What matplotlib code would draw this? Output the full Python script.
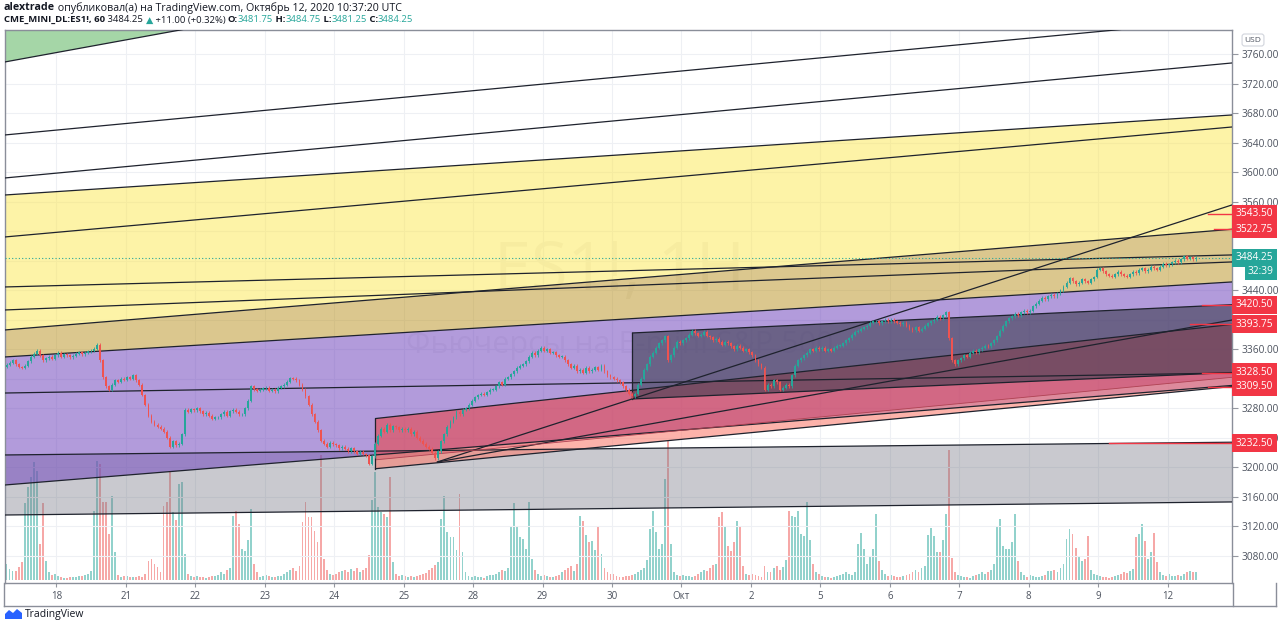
import matplotlib
matplotlib.use("Agg")
import matplotlib.pyplot as plt
from matplotlib.patches import Polygon
from matplotlib.lines import Line2D
from matplotlib.transforms import IdentityTransform
import numpy as np

plt.rcParams['font.family'] = ['Open Sans', 'DejaVu Sans']

# ---- ES1! hourly closes, one list per session ----
close_sep17 = [3339, 3342, 3345, 3340, 3336, 3335, 3338, 3344, 3350, 3354, 3358, 3352, 3345, 3348, 3350, 3347, 3352]
close_sep18 = [3355, 3350, 3353, 3352, 3349, 3351, 3354, 3356, 3353, 3355, 3357, 3358, 3361, 3366, 3345, 3322, 3310, 3305, 3312, 3318, 3316, 3320, 3319]
close_sep21 = [3322, 3320, 3325, 3318, 3312, 3298, 3285, 3270, 3262, 3258, 3255, 3252, 3248, 3240, 3228, 3235, 3230, 3232, 3245, 3278, 3275, 3279, 3277]
close_sep22 = [3280, 3276, 3272, 3274, 3270, 3266, 3268, 3268, 3272, 3275, 3270, 3276, 3278, 3275, 3272, 3272, 3280, 3290, 3310, 3306, 3304, 3305, 3307]
close_sep23 = [3308, 3304, 3305, 3303, 3308, 3310, 3312, 3316, 3321, 3320, 3318, 3312, 3305, 3296, 3285, 3272, 3262, 3250, 3236, 3232, 3228, 3233, 3231]
close_sep24 = [3230, 3226, 3228, 3225, 3222, 3226, 3222, 3218, 3221, 3218, 3216, 3205, 3215, 3232, 3243, 3252, 3248, 3258, 3250, 3256, 3254, 3250, 3252]
close_sep25 = [3250, 3252, 3245, 3248, 3240, 3236, 3232, 3228, 3225, 3220, 3212, 3222, 3235, 3245, 3255, 3262, 3268, 3275, 3272, 3278, 3280, 3285, 3290]
close_sep28 = [3295, 3298, 3300, 3298, 3302, 3305, 3305, 3310, 3315, 3312, 3320, 3322, 3326, 3330, 3335, 3338, 3340, 3344, 3350, 3355, 3352, 3358, 3362]
close_sep29 = [3358, 3360, 3355, 3356, 3352, 3350, 3350, 3345, 3340, 3335, 3338, 3330, 3332, 3328, 3335, 3330, 3332, 3336, 3332, 3338, 3330, 3325, 3322]
close_sep30 = [3320, 3318, 3315, 3310, 3305, 3300, 3296, 3300, 3312, 3320, 3332, 3340, 3350, 3355, 3362, 3368, 3372, 3378, 3345, 3352, 3362, 3370, 3368]
close_oct01 = [3372, 3375, 3380, 3385, 3382, 3378, 3380, 3384, 3378, 3376, 3372, 3374, 3370, 3366, 3370, 3368, 3364, 3360, 3365, 3362, 3358, 3360, 3356]
close_oct02 = [3352, 3345, 3340, 3335, 3305, 3312, 3310, 3318, 3315, 3305, 3308, 3312, 3310, 3325, 3338, 3345, 3348, 3352, 3355, 3360, 3358, 3362, 3360]
close_oct05 = [3362, 3358, 3360, 3358, 3362, 3365, 3365, 3368, 3372, 3375, 3380, 3384, 3385, 3388, 3390, 3392, 3396, 3398, 3398, 3395, 3398, 3400, 3398]
close_oct06 = [3400, 3398, 3396, 3394, 3396, 3392, 3388, 3386, 3390, 3385, 3388, 3392, 3395, 3398, 3400, 3404, 3402, 3406, 3410, 3375, 3345, 3340, 3345]
close_oct07 = [3348, 3352, 3350, 3355, 3358, 3356, 3360, 3362, 3365, 3364, 3368, 3372, 3378, 3385, 3392, 3398, 3402, 3405, 3408, 3406, 3410, 3412, 3410]
close_oct08 = [3412, 3418, 3422, 3426, 3430, 3428, 3432, 3434, 3432, 3436, 3440, 3445, 3450, 3456, 3452, 3448, 3450, 3455, 3452, 3450, 3455, 3458, 3468]
close_oct09 = [3470, 3466, 3462, 3460, 3458, 3462, 3465, 3462, 3460, 3458, 3462, 3465, 3463, 3468, 3470, 3466, 3468, 3472, 3470, 3468, 3472, 3476, 3474]
close_oct12 = [3475, 3478, 3480, 3478, 3482, 3486, 3483, 3485, 3482, 3484.25]
first_open = 3336.0

# ---- hourly volume, same sessions ----
vol_sep17 = [16, 11, 9, 9, 13, 18, 77, 93, 103, 118, 109, 36, 77, 19, 8, 5, 6]
vol_sep18 = [4, 3, 2, 2, 3, 3, 3, 4, 4, 5, 6, 9, 69, 119, 116, 78, 78, 46, 84, 28, 5, 3, 4]
vol_sep21 = [4, 3, 3, 3, 4, 3, 6, 19, 21, 16, 13, 8, 74, 78, 109, 68, 60, 96, 98, 26, 6, 4, 3]
vol_sep22 = [4, 3, 3, 2, 3, 4, 4, 5, 8, 6, 10, 12, 64, 69, 56, 31, 29, 40, 71, 16, 8, 3, 4]
vol_sep23 = [5, 4, 3, 3, 4, 4, 6, 8, 10, 12, 9, 14, 58, 78, 63, 63, 49, 38, 125, 21, 10, 6, 5]
vol_sep24 = [6, 8, 9, 10, 8, 11, 9, 12, 8, 10, 12, 25, 80, 108, 73, 68, 66, 63, 103, 18, 6, 4, 5]
vol_sep25 = [4, 3, 4, 3, 4, 5, 6, 7, 10, 12, 15, 18, 61, 84, 48, 43, 43, 30, 86, 28, 8, 4, 3]
vol_sep28 = [4, 3, 3, 2, 4, 5, 5, 6, 8, 10, 9, 12, 54, 77, 53, 43, 41, 31, 78, 21, 10, 6, 4]
vol_sep29 = [5, 4, 3, 3, 4, 5, 8, 10, 12, 14, 9, 16, 64, 59, 45, 38, 39, 30, 53, 26, 12, 8, 6]
vol_sep30 = [6, 4, 3, 3, 4, 4, 5, 6, 8, 10, 12, 20, 51, 69, 48, 31, 36, 101, 139, 36, 8, 5, 4]
vol_oct01 = [5, 4, 4, 3, 4, 6, 8, 10, 9, 12, 15, 16, 63, 68, 53, 34, 29, 38, 59, 53, 14, 6, 5]
vol_oct02 = [6, 5, 4, 3, 14, 8, 8, 12, 14, 10, 13, 20, 69, 64, 63, 69, 46, 44, 78, 40, 16, 8, 6]
vol_oct05 = [4, 3, 3, 2, 3, 4, 5, 6, 8, 6, 5, 8, 36, 47, 31, 16, 24, 31, 66, 19, 10, 6, 4]
vol_oct06 = [5, 4, 3, 3, 4, 5, 6, 8, 10, 8, 12, 14, 45, 52, 44, 28, 28, 40, 66, 130, 22, 8, 5]
vol_oct07 = [4, 3, 3, 2, 4, 5, 6, 8, 6, 8, 10, 16, 53, 61, 34, 31, 31, 38, 66, 19, 8, 5, 3]
vol_oct08 = [5, 4, 3, 3, 4, 5, 9, 9, 10, 8, 12, 16, 41, 51, 46, 32, 23, 19, 21, 44, 10, 6, 5]
vol_oct09 = [4, 3, 3, 2, 3, 4, 5, 6, 8, 7, 9, 11, 43, 46, 56, 39, 21, 28, 47, 18, 8, 5, 4]
vol_oct12 = [6, 4, 4, 5, 4, 6, 8, 9, 8, 8]

sessions = [close_sep17, close_sep18, close_sep21, close_sep22, close_sep23, close_sep24,
            close_sep25, close_sep28, close_sep29, close_sep30, close_oct01, close_oct02,
            close_oct05, close_oct06, close_oct07, close_oct08, close_oct09, close_oct12]
volumes = [vol_sep17, vol_sep18, vol_sep21, vol_sep22, vol_sep23, vol_sep24, vol_sep25,
           vol_sep28, vol_sep29, vol_sep30, vol_oct01, vol_oct02, vol_oct05, vol_oct06,
           vol_oct07, vol_oct08, vol_oct09, vol_oct12]
day_labels = ['18', '21', '22', '23', '24', '25', '28', '29', '30', 'Окт', '2', '5', '6', '7', '8', '9', '12']

price_ticks = [3080, 3120, 3160, 3200, 3240, 3280, 3320, 3360, 3400, 3440, 3480, 3520, 3560, 3600, 3640, 3680, 3720, 3760]
# ticks hidden under the coloured price labels in the reference
hidden_ticks = [3320, 3400, 3480, 3520]

# ---- drawings: (bar, price) end points ----
green_edge = [(-0.5, 3749.6), (57.5, 3792.9)]
fan_1 = [(-0.5, 3650.6), (367.1, 3792.9)]
fan_2 = [(-0.5, 3592.3), (405.8, 3748.2)]
yellow_top = [(-0.5, 3569.2), (405.8, 3677.7)]
yellow_mid = [(-0.5, 3512.3), (405.8, 3661.4)]
tan_top = [(-0.5, 3386.2), (405.8, 3522.75)]
purple_top = [(-0.5, 3349.6), (405.8, 3451.3)]
purple_bot = [(-0.5, 3176.0), (405.8, 3311.0)]
grey_top = [(-0.5, 3216.7), (405.8, 3234.0)]
grey_bot = [(-0.5, 3135.3), (405.8, 3153.0)]
flat_1 = [(-0.5, 3444.5), (405.8, 3487.9)]
flat_2 = [(-0.5, 3413.3), (405.8, 3478.4)]
flat_3 = [(-0.5, 3300.7), (405.8, 3327.9)]
red_top = [(122.0, 3266.0), (405.8, 3393.75)]
red_mid = [(122.0, 3210.0), (405.8, 3322.0)]
red_bot = [(122.0, 3198.0), (405.8, 3309.5)]
box_top = [(207.1, 3382.1), (405.8, 3420.5)]
box_bot = [(207.1, 3292.6), (405.8, 3328.5)]
ray_1 = [(142.5, 3207.0), (405.8, 3555.7)]
ray_2 = [(142.5, 3207.0), (405.8, 3399.7)]

red_levels = [3543.50, 3522.75, 3420.50, 3393.75, 3328.50, 3309.50, 3232.50]
red_level_from = [398, 400, 396, 392, 396, 398, 365]
last_price = 3484.25
countdown = '32:39'

TEAL = '#26a69a'
RED = '#ef5350'
INK = '#1e222d'
LABEL = '#4c525e'

closes = np.concatenate([np.asarray(s, dtype=float) for s in sessions])
vols = np.concatenate([np.asarray(v, dtype=float) for v in volumes])
opens = np.r_[first_open, closes[:-1]]
x = np.arange(len(closes))
day_starts = np.cumsum([len(s) for s in sessions])[:-1]

fig = plt.figure(figsize=(12.8, 6.28), dpi=100)
rect = [5 / 1280, 45 / 628, 1227 / 1280, 553 / 628]
vax = fig.add_axes(rect)
ax = fig.add_axes(rect, sharex=vax)
vax.set_zorder(1)
ax.set_zorder(2)
ax.patch.set_visible(False)
vax.axis('off')

XL, XR = -0.5, 405.8
YB, YT = 3043.1, 3792.9


def at(line, xv):
    (x0, p0), (x1, p1) = line
    return p0 + (p1 - p0) * (xv - x0) / (x1 - x0)


def band(lower, upper, x0, x1, color, alpha, z=2):
    pts = [(x0, at(lower, x0)), (x1, at(lower, x1)), (x1, at(upper, x1)), (x0, at(upper, x0))]
    ax.add_patch(Polygon(pts, closed=True, fc=color, alpha=alpha, lw=0, zorder=z))


def edge(line, x0, x1, color=INK, lw=0.9, z=4):
    ax.plot([x0, x1], [at(line, x0), at(line, x1)], color=color, lw=lw, zorder=z, solid_capstyle='butt')


# grid
for p in price_ticks:
    ax.axhline(p, color='#eef0f4', lw=0.8, zorder=0.5)
for d in day_starts:
    ax.axvline(d - 0.5, color='#eef0f4', lw=0.8, zorder=0.5)

# watermark
fig.text(620, 628 - 272, 'ES1!, 1H', transform=IdentityTransform(), fontsize=48,
         color='black', alpha=0.05, ha='center', va='center', zorder=1)
fig.text(620, 628 - 345, 'Фьючерсы на E-mini S&P 500', transform=IdentityTransform(),
         fontsize=22, color='black', alpha=0.05, ha='center', va='center', zorder=1)

# filled channels
X0, X1 = -2, 408
band(tan_top, yellow_top, X0, X1, (252 / 255, 232 / 255, 80 / 255), 0.5)
band(purple_top, tan_top, X0, X1, (185 / 255, 145 / 255, 30 / 255), 0.5)
band(grey_bot, grey_top, X0, X1, (120 / 255, 122 / 255, 135 / 255), 0.4)
band(purple_bot, purple_top, X0, X1, (115 / 255, 73 / 255, 190 / 255), 0.55, z=2.1)
band(red_mid, red_top, red_top[0][0], X1, (232 / 255, 70 / 255, 75 / 255), 0.6, z=2.2)
band(red_bot, red_mid, red_top[0][0], X1, (250 / 255, 128 / 255, 114 / 255), 0.6, z=2.2)
band(box_bot, box_top, box_top[0][0], X1, (60 / 255, 60 / 255, 80 / 255), 0.6, z=2.3)
band(green_edge, [(0, 3810), (1, 3810)], X0, X1, '#a5d6a7', 1.0, z=2)

# channel outlines and trend lines
for ln in [green_edge, fan_1, fan_2, yellow_top, yellow_mid, tan_top, purple_top,
           purple_bot, grey_top, grey_bot, flat_1, flat_2, flat_3]:
    edge(ln, X0, X1)
for ln in [red_top, red_bot, box_top, box_bot, ray_1, ray_2]:
    edge(ln, ln[0][0], X1)
edge(red_mid, red_mid[0][0], X1, color='#b04050', lw=0.6)
ax.plot([red_top[0][0]] * 2, [red_bot[0][1], red_top[0][1]], color=INK, lw=0.9, zorder=4)
ax.plot([box_top[0][0]] * 2, [box_bot[0][1], box_top[0][1]], color=INK, lw=0.9, zorder=4)

for p, s in zip(red_levels, red_level_from):
    ax.plot([s, X1], [p, p], color='#f23645', lw=1.0, zorder=4.5)

ax.axhline(last_price, color=TEAL, ls=(0, (1, 2)), lw=0.8, zorder=5)

# candles
up = closes >= opens
ccol = np.where(up, TEAL, RED)
lo = np.minimum(opens, closes)
hi = np.maximum(opens, closes)
wick = 2.0
ax.vlines(x, lo - wick, hi + wick, colors=ccol, lw=0.6, zorder=6)
ax.bar(x, np.maximum(hi - lo, 0.7), bottom=lo, width=0.62, color=ccol, lw=0, zorder=7)

# volume
vcol = np.where(up, '#26a69a', '#ef5350')
vax.bar(x, vols, width=0.62, color=vcol, alpha=0.5, lw=0)
vax.set_ylim(-3, 550)

ax.set_xlim(XL, XR)
ax.set_ylim(YB, YT)

# axes styling
ax.yaxis.tick_right()
ax.set_yticks(price_ticks)
ax.set_yticklabels(['' if p in hidden_ticks else f'{p:.2f}' for p in price_ticks])
ax.tick_params(axis='y', length=4, width=0.8, color='#9598a1', labelsize=7.3,
               labelcolor=LABEL, pad=3)
ax.set_xticks(day_starts - 0.5)
ax.set_xticklabels(day_labels)
ax.tick_params(axis='x', length=3, width=0.8, color='#9598a1', labelsize=7,
               labelcolor=LABEL, pad=3)
for sp in ax.spines.values():
    sp.set_color('#8a8e99')
    sp.set_linewidth(1.0)


def fig_line(xs, ys):
    fig.add_artist(Line2D(xs, [628 - y for y in ys], transform=IdentityTransform(),
                          color='#8a8e99', lw=1.0))


fig_line([4, 1276], [606, 606])
fig_line([4, 4], [583, 606])
fig_line([1232.5, 1232.5], [583, 606])
fig_line([1276, 1276], [583, 606])

# price labels on the right scale
lab_kw = dict(xycoords=ax.get_yaxis_transform(), textcoords='offset pixels', ha='left',
              va='center', fontsize=7.3, color='white', annotation_clip=False, zorder=10)
for p in red_levels:
    ax.annotate(f'{p:.2f}', xy=(1, p), xytext=(4, 0),
                bbox=dict(boxstyle='square,pad=0.35', fc='#f23645', ec='none'), **lab_kw)
ax.annotate(f'{last_price:.2f}', xy=(1, last_price), xytext=(4, 0),
            bbox=dict(boxstyle='square,pad=0.35', fc=TEAL, ec='none'), **lab_kw)
ax.annotate(countdown, xy=(1, last_price), xytext=(16, -14),
            bbox=dict(boxstyle='square,pad=0.3', fc=TEAL, ec='none'), **lab_kw)

fig.text(1253, 628 - 40, 'USD', transform=IdentityTransform(), fontsize=6, color=LABEL,
         ha='center', va='center',
         bbox=dict(boxstyle='round,pad=0.3', fc='white', ec='#d1d4dc', lw=0.8))

# header
fig.canvas.draw()
rend = fig.canvas.get_renderer()


def write_run(x0, y0, parts, size):
    for s, color, weight in parts:
        t = fig.text(x0, 628 - y0, s, transform=IdentityTransform(), fontsize=size,
                     color=color, fontweight=weight, ha='left', va='center')
        x0 += t.get_window_extent(renderer=rend).width


BLACK = '#131722'
write_run(4, 8, [('alextrade', BLACK, 'bold'),
                 (' опубликовал(а) на TradingView.com, Октябрь 12, 2020 10:37:20 UTC', BLACK, 'normal')],
          size=7.7)
write_run(4, 20, [('CME_MINI_DL:ES1!, 60', BLACK, 'bold'),
                  (' 3484.25 ', BLACK, 'normal'), ('▲', TEAL, 'normal'),
                  (' +11.00 (+0.32%) ', BLACK, 'normal'),
                  ('O:', BLACK, 'bold'), ('3481.75', TEAL, 'normal'),
                  (' H:', BLACK, 'bold'), ('3484.75', TEAL, 'normal'),
                  (' L:', BLACK, 'bold'), ('3481.25', TEAL, 'normal'),
                  (' C:', BLACK, 'bold'), ('3484.25', TEAL, 'normal')],
          size=6.8)

# footer logo
fig.add_artist(Polygon([(5, 9), (5, 14), (9, 18), (13, 15), (17, 19), (22, 15), (22, 9)],
                       closed=True, transform=IdentityTransform(), fc='#2962ff', lw=0))
fig.text(25, 628 - 615, 'TradingView', transform=IdentityTransform(), fontsize=7.5,
         color=BLACK, ha='left', va='center')

fig.savefig('out.png', dpi=100, facecolor='white')
